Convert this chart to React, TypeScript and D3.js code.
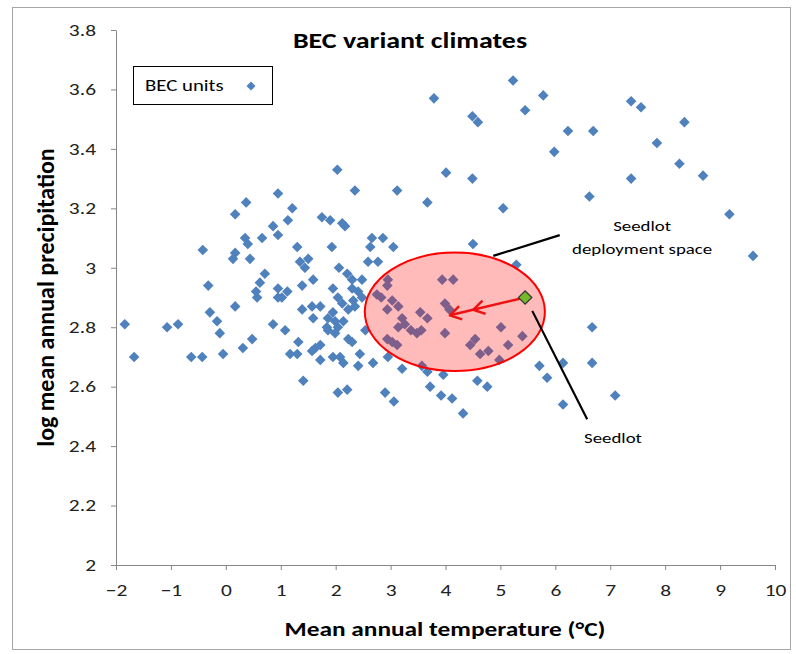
import React, { useRef, useEffect } from 'react';
import * as d3 from 'd3';

/**
 * BEC variant climates - scatter of BEC units with a seedlot deployment ellipse.
 */

// Mean annual temperature (°C) of each BEC unit
const meanTemp = [
  5.23, 5.78, 5.45, 4.49, 4.59, 7.38, 7.56, 8.35, 6.23, 6.69, 5.98, 7.85, 8.26, 8.69, 4.01, 4.49,
  7.38, 6.62, 5.05, 9.17, 4.50, 9.60, 3.79, 2.03, 2.35, 3.12, 3.67, 5.29, 6.67, 6.67, 7.09, 6.14,
  5.71, 5.85, 6.14, 5.01, 5.40, 4.54, 4.45, 4.63, 4.78, 5.14, 4.98, 4.58, 4.76, 4.12, 4.32, 4.14,
  3.94, 3.99, 4.07, 3.99, 3.96, 3.72, 3.92, 2.23, 2.12, 2.75, 3.03, 2.94, 3.21, 3.26, 3.14, 3.54,
  3.67, 3.48, 3.56, 2.94, 3.03, 3.12, 2.04, 2.14, 2.23, 2.30, 2.44, 2.08, 2.14, 2.41, 2.68, 2.95,
  3.21, 3.57, 3.67, 2.04, 2.21, 2.90, 3.06, 2.54, 0.17, 0.57, 0.95, 1.39, 1.57, 1.72, 1.59, 1.86,
  1.99, 1.84, 0.86, 1.08, 0.48, 0.31, 1.32, 1.17, 1.30, 1.63, 1.72, 1.57, 1.72, 1.95, -0.05, 1.41,
  0.95, 0.37, 0.17, 1.21, 1.13, 1.75, 1.90, 0.35, 0.40, 0.66, 0.86, 0.95, 0.17, 0.13, 0.44, 1.30,
  1.50, 1.35, 1.44, 1.59, 1.39, 1.93, 2.06, 0.71, 0.62, 0.55, 0.95, 1.95, 2.17, 2.12, 2.66, 2.86,
  3.05, 2.63, 2.59, 2.77, 2.21, 2.30, 2.48, 2.95, 2.94, -0.42, -0.32, -0.29, -0.16, -0.11, -1.84, -1.07,
  -0.87, -1.67, -0.63, -0.43, 2.30, 2.41, 2.48, 2.32, 2.83, 1.12, 2.04, 1.02, 1.95, 2.35, 3.14, 3.37,
  1.86, 1.99
];

// log mean annual precipitation of each BEC unit (same order)
const logPrecip = [
  3.63, 3.58, 3.53, 3.51, 3.49, 3.56, 3.54, 3.49, 3.46, 3.46, 3.39, 3.42, 3.35, 3.31, 3.32, 3.30,
  3.30, 3.24, 3.20, 3.18, 3.08, 3.04, 3.57, 3.33, 3.26, 3.26, 3.22, 3.01, 2.80, 2.68, 2.57, 2.54,
  2.67, 2.63, 2.68, 2.80, 2.77, 2.76, 2.74, 2.71, 2.72, 2.74, 2.69, 2.62, 2.60, 2.56, 2.51, 2.96,
  2.96, 2.88, 2.86, 2.78, 2.64, 2.60, 2.57, 2.86, 2.88, 2.91, 2.89, 2.86, 2.83, 2.81, 2.80, 2.85,
  2.83, 2.78, 2.79, 2.76, 2.75, 2.74, 2.80, 2.82, 2.76, 2.75, 2.71, 2.70, 2.68, 2.67, 2.68, 2.70,
  2.66, 2.67, 2.65, 2.58, 2.59, 2.58, 2.55, 2.79, 2.87, 2.90, 2.90, 2.86, 2.87, 2.87, 2.83, 2.83,
  2.82, 2.80, 2.81, 2.79, 2.76, 2.73, 2.75, 2.71, 2.71, 2.73, 2.74, 2.72, 2.69, 2.70, 2.71, 2.62,
  3.25, 3.22, 3.18, 3.20, 3.16, 3.17, 3.16, 3.10, 3.08, 3.10, 3.14, 3.11, 3.05, 3.03, 3.03, 3.07,
  3.03, 3.02, 3.00, 2.96, 2.94, 3.07, 3.00, 2.98, 2.95, 2.92, 2.93, 2.93, 3.14, 3.15, 3.10, 3.10,
  3.07, 3.07, 3.02, 3.02, 2.98, 2.96, 2.96, 2.96, 2.94, 3.06, 2.94, 2.85, 2.82, 2.78, 2.81, 2.80,
  2.81, 2.70, 2.70, 2.70, 2.93, 2.92, 2.90, 2.89, 2.90, 2.92, 2.90, 2.90, 2.85, 2.87, 2.87, 2.79,
  2.79, 2.78
];

// Seedlot climate, and the arrow tip it points to
const seedlot = [5.45, 2.9];
const arrowTip = [4.08, 2.84];

// Deployment space ellipse: centre and radii in data units
const ellipseCentre = [4.17, 2.852];
const ellipseRadii = [1.64, 0.199];

const xTicks = [-2, -1, 0, 1, 2, 3, 4, 5, 6, 7, 8, 9, 10];
const yTicks = [2, 2.2, 2.4, 2.6, 2.8, 3, 3.2, 3.4, 3.6, 3.8];

const WIDTH = 796;
const HEIGHT = 654;
const FONT = "Carlito, Calibri, Lato, 'Open Sans', sans-serif";
const BLUE = '#4F81BD';
const AXIS_GREY = '#868686';
// the original picture is stretched sideways, so its text is wider than the font
const STRETCH = 1.3;

export default function App() {
  const svgRef = useRef<SVGSVGElement>(null);

  useEffect(() => {
    if (!svgRef.current) return;
    const svg = d3.select(svgRef.current);
    svg.selectAll('*').remove();

    const margin = { top: 30, right: 21, bottom: 89, left: 116 };
    const x = d3.scaleLinear().domain([-2, 10]).range([margin.left, WIDTH - margin.right]);
    const y = d3.scaleLinear().domain([2, 3.8]).range([HEIGHT - margin.bottom, margin.top]);

    // text placed at (px, py), stretched sideways like the original
    const addText = (px: number, py: number, text: string, size: number, opts: { bold?: boolean; anchor?: string } = {}) =>
      svg.append('text')
        .attr('transform', `translate(${px},${py}) scale(${STRETCH},1)`)
        .attr('text-anchor', opts.anchor || 'middle')
        .style('font-family', FONT)
        .style('font-size', `${size}px`)
        .style('font-weight', opts.bold ? 'bold' : 'normal')
        .text(text);

    // Chart frame
    svg.append('rect')
      .attr('x', 12.5).attr('y', 7.5)
      .attr('width', 778).attr('height', 642)
      .attr('fill', 'white')
      .attr('stroke', '#a6a6a6');

    // X axis
    const xAxis = svg.append('g')
      .attr('transform', `translate(0,${y(2)})`)
      .call(d3.axisBottom(x).tickValues(xTicks).tickSize(5).tickSizeOuter(0).tickFormat(d3.format('d')));
    xAxis.select('.domain').attr('stroke', AXIS_GREY);
    xAxis.selectAll('.tick line').attr('stroke', AXIS_GREY);
    xAxis.selectAll('text')
      .attr('y', 19)
      .attr('transform', `scale(${STRETCH},1)`)
      .style('font-family', FONT)
      .style('font-size', '16.5px')
      .style('fill', '#222');

    // Y axis
    const yAxis = svg.append('g')
      .attr('transform', `translate(${x(-2)},0)`)
      .call(d3.axisLeft(y).tickValues(yTicks).tickSize(5).tickSizeOuter(0).tickFormat(d => `${+(+d).toFixed(1)}`));
    yAxis.select('.domain').attr('stroke', AXIS_GREY);
    yAxis.selectAll('.tick line').attr('stroke', AXIS_GREY);
    yAxis.selectAll('text')
      .attr('x', -20 / STRETCH)
      .attr('transform', `scale(${STRETCH},1)`)
      .style('font-family', FONT)
      .style('font-size', '16.5px')
      .style('fill', '#222');

    // Axis titles and chart title
    addText(445, 636, 'Mean annual temperature (°C)', 19.5, { bold: true });
    addText(410, 48, 'BEC variant climates', 21.5, { bold: true });

    // vertical title is not stretched along its length
    svg.append('text')
      .attr('transform', `translate(54,${(y(2) + y(3.8)) / 2}) rotate(-90)`)
      .attr('text-anchor', 'middle')
      .style('font-family', FONT).style('font-size', '24px').style('font-weight', 'bold')
      .text('log mean annual precipitation');

    // BEC unit markers
    const diamond = d3.symbol().type(d3.symbolSquare).size(56);
    svg.append('g')
      .selectAll('path')
      .data(meanTemp.map((t, i) => [t, logPrecip[i]]))
      .enter().append('path')
      .attr('d', diamond)
      .attr('transform', d => `translate(${x(d[0])},${y(d[1])}) rotate(45)`)
      .attr('fill', BLUE);

    // Deployment space ellipse, drawn over the markers
    svg.append('ellipse')
      .attr('cx', x(ellipseCentre[0]))
      .attr('cy', y(ellipseCentre[1]))
      .attr('rx', x(ellipseCentre[0] + ellipseRadii[0]) - x(ellipseCentre[0]))
      .attr('ry', y(ellipseCentre[1]) - y(ellipseCentre[1] + ellipseRadii[1]))
      .attr('fill', 'rgba(255,0,0,0.27)')
      .attr('stroke', '#ff0000')
      .attr('stroke-width', 2);

    // Arrow from the seedlot to the centre of its deployment space
    const sx = x(seedlot[0]), sy = y(seedlot[1]);
    const tx = x(arrowTip[0]), ty = y(arrowTip[1]);
    svg.append('line')
      .attr('x1', sx).attr('y1', sy).attr('x2', tx).attr('y2', ty)
      .attr('stroke', '#ee1111').attr('stroke-width', 2.5);

    const ang = Math.atan2(sy - ty, sx - tx);
    const chevron = (back: number) => {
      const ax = tx + Math.cos(ang) * back;
      const ay = ty + Math.sin(ang) * back;
      const len = 13, spread = 0.55;
      return d3.line()([
        [ax + Math.cos(ang + spread) * len, ay + Math.sin(ang + spread) * len],
        [ax, ay],
        [ax + Math.cos(ang - spread) * len, ay + Math.sin(ang - spread) * len]
      ]);
    };
    [0, 24].forEach(back => {
      svg.append('path')
        .attr('d', chevron(back))
        .attr('fill', 'none')
        .attr('stroke', '#ee1111')
        .attr('stroke-width', 2.5)
        .attr('stroke-linejoin', 'round');
    });

    // Seedlot marker
    svg.append('path')
      .attr('d', d3.symbol().type(d3.symbolSquare).size(90))
      .attr('transform', `translate(${sx},${sy}) rotate(45)`)
      .attr('fill', '#76B82A')
      .attr('stroke', '#333')
      .attr('stroke-width', 1.2);

    // Callouts
    const callout = (from: number[], to: number[]) => svg.append('line')
      .attr('x1', x(from[0])).attr('y1', y(from[1]))
      .attr('x2', x(to[0])).attr('y2', y(to[1]))
      .attr('stroke', 'black').attr('stroke-width', 2.2);

    callout([4.87, 3.04], [6.08, 3.11]);
    callout([5.58, 2.855], [6.58, 2.49]);

    addText(x(7.58), y(3.125), 'Seedlot', 14.5);
    addText(x(7.58), y(3.045), 'deployment space', 14.5);
    addText(x(7.05), y(2.41), 'Seedlot', 14.5);

    // Legend
    const legend = svg.append('g').attr('transform', 'translate(133,66)');
    legend.append('rect')
      .attr('x', 0.5).attr('y', 0.5)
      .attr('width', 139).attr('height', 38)
      .attr('fill', 'white')
      .attr('stroke', 'black');
    addText(145, 91, 'BEC units', 16, { anchor: 'start' });
    legend.append('path')
      .attr('d', d3.symbol().type(d3.symbolSquare).size(40))
      .attr('transform', 'translate(118,20) rotate(45)')
      .attr('fill', BLUE);
  }, []);

  return (
    <div style={{ position: 'absolute', left: 0, top: 0 }}>
      <svg ref={svgRef} width={WIDTH} height={HEIGHT} style={{ display: 'block' }} />
    </div>
  );
}
